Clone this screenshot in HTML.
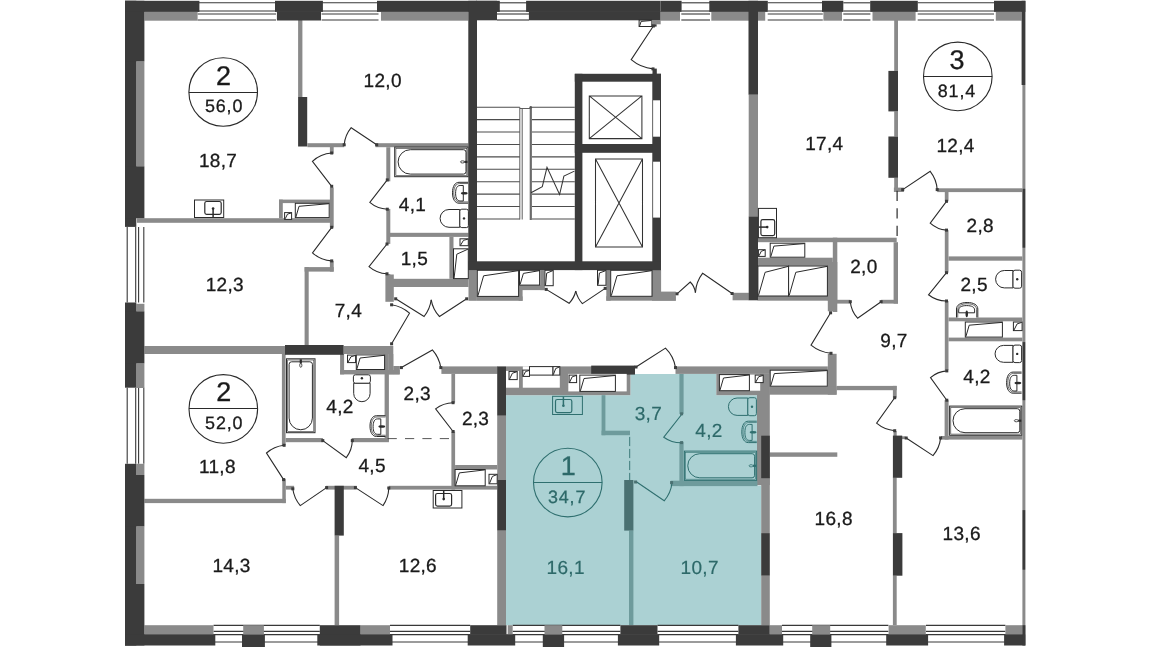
<!DOCTYPE html>
<html><head><meta charset="utf-8"><title>Floor plan</title>
<style>
html,body{margin:0;padding:0;background:#fff;}
body{width:1150px;height:647px;overflow:hidden;}
svg{display:block;will-change:transform;font-family:"Liberation Sans",sans-serif;-webkit-font-smoothing:antialiased;text-rendering:geometricPrecision;}
</style></head><body>
<svg width="1150" height="647" viewBox="0 0 1150 647">
<rect width="1150" height="647" fill="#fff"/>
<path d="M506 395.2 H630.4 V374 H716.3 V395.2 H757.2 V485.5 H761.2 V625.2 H506 Z" fill="#abd1d3"/>
<line x1="197.60" y1="2.80" x2="276.00" y2="2.80" stroke="#383838" stroke-width="1.10"/>
<line x1="197.60" y1="11.00" x2="276.00" y2="11.00" stroke="#383838" stroke-width="1.10"/>
<line x1="197.60" y1="14.00" x2="276.00" y2="14.00" stroke="#383838" stroke-width="1.10"/>
<line x1="197.60" y1="20.00" x2="276.00" y2="20.00" stroke="#383838" stroke-width="1.10"/>
<line x1="321.60" y1="2.80" x2="378.50" y2="2.80" stroke="#383838" stroke-width="1.10"/>
<line x1="321.60" y1="11.00" x2="378.50" y2="11.00" stroke="#383838" stroke-width="1.10"/>
<line x1="321.60" y1="14.00" x2="378.50" y2="14.00" stroke="#383838" stroke-width="1.10"/>
<line x1="321.60" y1="20.00" x2="378.50" y2="20.00" stroke="#383838" stroke-width="1.10"/>
<line x1="497.00" y1="2.80" x2="529.00" y2="2.80" stroke="#383838" stroke-width="1.10"/>
<line x1="497.00" y1="11.00" x2="529.00" y2="11.00" stroke="#383838" stroke-width="1.10"/>
<line x1="497.00" y1="14.00" x2="529.00" y2="14.00" stroke="#383838" stroke-width="1.10"/>
<line x1="497.00" y1="20.00" x2="529.00" y2="20.00" stroke="#383838" stroke-width="1.10"/>
<line x1="681.30" y1="2.80" x2="710.00" y2="2.80" stroke="#383838" stroke-width="1.10"/>
<line x1="681.30" y1="11.00" x2="710.00" y2="11.00" stroke="#383838" stroke-width="1.10"/>
<line x1="681.30" y1="14.00" x2="710.00" y2="14.00" stroke="#383838" stroke-width="1.10"/>
<line x1="681.30" y1="20.00" x2="710.00" y2="20.00" stroke="#383838" stroke-width="1.10"/>
<line x1="767.70" y1="2.80" x2="822.80" y2="2.80" stroke="#383838" stroke-width="1.10"/>
<line x1="767.70" y1="11.00" x2="822.80" y2="11.00" stroke="#383838" stroke-width="1.10"/>
<line x1="767.70" y1="14.00" x2="822.80" y2="14.00" stroke="#383838" stroke-width="1.10"/>
<line x1="767.70" y1="20.00" x2="822.80" y2="20.00" stroke="#383838" stroke-width="1.10"/>
<line x1="843.30" y1="2.80" x2="870.40" y2="2.80" stroke="#383838" stroke-width="1.10"/>
<line x1="843.30" y1="11.00" x2="870.40" y2="11.00" stroke="#383838" stroke-width="1.10"/>
<line x1="843.30" y1="14.00" x2="870.40" y2="14.00" stroke="#383838" stroke-width="1.10"/>
<line x1="843.30" y1="20.00" x2="870.40" y2="20.00" stroke="#383838" stroke-width="1.10"/>
<line x1="917.70" y1="2.80" x2="994.00" y2="2.80" stroke="#383838" stroke-width="1.10"/>
<line x1="917.70" y1="11.00" x2="994.00" y2="11.00" stroke="#383838" stroke-width="1.10"/>
<line x1="917.70" y1="14.00" x2="994.00" y2="14.00" stroke="#383838" stroke-width="1.10"/>
<line x1="917.70" y1="20.00" x2="994.00" y2="20.00" stroke="#383838" stroke-width="1.10"/>
<line x1="127.20" y1="226.90" x2="127.20" y2="302.50" stroke="#383838" stroke-width="1.10"/>
<line x1="135.70" y1="226.90" x2="135.70" y2="302.50" stroke="#383838" stroke-width="1.10"/>
<line x1="138.60" y1="226.90" x2="138.60" y2="302.50" stroke="#383838" stroke-width="1.10"/>
<line x1="143.80" y1="226.90" x2="143.80" y2="302.50" stroke="#383838" stroke-width="1.10"/>
<line x1="127.20" y1="387.70" x2="127.20" y2="463.80" stroke="#383838" stroke-width="1.10"/>
<line x1="135.70" y1="387.70" x2="135.70" y2="463.80" stroke="#383838" stroke-width="1.10"/>
<line x1="138.60" y1="387.70" x2="138.60" y2="463.80" stroke="#383838" stroke-width="1.10"/>
<line x1="143.80" y1="387.70" x2="143.80" y2="463.80" stroke="#383838" stroke-width="1.10"/>
<line x1="213.50" y1="625.40" x2="319.80" y2="625.40" stroke="#383838" stroke-width="1.10"/>
<line x1="213.50" y1="631.40" x2="319.80" y2="631.40" stroke="#383838" stroke-width="1.10"/>
<line x1="213.50" y1="634.60" x2="319.80" y2="634.60" stroke="#383838" stroke-width="1.10"/>
<line x1="213.50" y1="642.00" x2="319.80" y2="642.00" stroke="#383838" stroke-width="1.10"/>
<line x1="390.00" y1="625.40" x2="470.20" y2="625.40" stroke="#383838" stroke-width="1.10"/>
<line x1="390.00" y1="631.40" x2="470.20" y2="631.40" stroke="#383838" stroke-width="1.10"/>
<line x1="390.00" y1="634.60" x2="470.20" y2="634.60" stroke="#383838" stroke-width="1.10"/>
<line x1="390.00" y1="642.00" x2="470.20" y2="642.00" stroke="#383838" stroke-width="1.10"/>
<line x1="512.70" y1="625.40" x2="620.40" y2="625.40" stroke="#383838" stroke-width="1.10"/>
<line x1="512.70" y1="631.40" x2="620.40" y2="631.40" stroke="#383838" stroke-width="1.10"/>
<line x1="512.70" y1="634.60" x2="620.40" y2="634.60" stroke="#383838" stroke-width="1.10"/>
<line x1="512.70" y1="642.00" x2="620.40" y2="642.00" stroke="#383838" stroke-width="1.10"/>
<line x1="657.50" y1="625.40" x2="738.40" y2="625.40" stroke="#383838" stroke-width="1.10"/>
<line x1="657.50" y1="631.40" x2="738.40" y2="631.40" stroke="#383838" stroke-width="1.10"/>
<line x1="657.50" y1="634.60" x2="738.40" y2="634.60" stroke="#383838" stroke-width="1.10"/>
<line x1="657.50" y1="642.00" x2="738.40" y2="642.00" stroke="#383838" stroke-width="1.10"/>
<line x1="782.00" y1="625.40" x2="888.40" y2="625.40" stroke="#383838" stroke-width="1.10"/>
<line x1="782.00" y1="631.40" x2="888.40" y2="631.40" stroke="#383838" stroke-width="1.10"/>
<line x1="782.00" y1="634.60" x2="888.40" y2="634.60" stroke="#383838" stroke-width="1.10"/>
<line x1="782.00" y1="642.00" x2="888.40" y2="642.00" stroke="#383838" stroke-width="1.10"/>
<line x1="926.00" y1="625.40" x2="1005.40" y2="625.40" stroke="#383838" stroke-width="1.10"/>
<line x1="926.00" y1="631.40" x2="1005.40" y2="631.40" stroke="#383838" stroke-width="1.10"/>
<line x1="926.00" y1="634.60" x2="1005.40" y2="634.60" stroke="#383838" stroke-width="1.10"/>
<line x1="926.00" y1="642.00" x2="1005.40" y2="642.00" stroke="#383838" stroke-width="1.10"/>
<line x1="477.00" y1="107.20" x2="519.80" y2="107.20" stroke="#4d4d4d" stroke-width="1.10"/>
<line x1="532.00" y1="107.20" x2="574.80" y2="107.20" stroke="#4d4d4d" stroke-width="1.10"/>
<line x1="477.00" y1="119.62" x2="519.80" y2="119.62" stroke="#4d4d4d" stroke-width="1.10"/>
<line x1="532.00" y1="119.62" x2="574.80" y2="119.62" stroke="#4d4d4d" stroke-width="1.10"/>
<line x1="477.00" y1="132.04" x2="519.80" y2="132.04" stroke="#4d4d4d" stroke-width="1.10"/>
<line x1="532.00" y1="132.04" x2="574.80" y2="132.04" stroke="#4d4d4d" stroke-width="1.10"/>
<line x1="477.00" y1="144.46" x2="519.80" y2="144.46" stroke="#4d4d4d" stroke-width="1.10"/>
<line x1="532.00" y1="144.46" x2="574.80" y2="144.46" stroke="#4d4d4d" stroke-width="1.10"/>
<line x1="477.00" y1="156.88" x2="519.80" y2="156.88" stroke="#4d4d4d" stroke-width="1.10"/>
<line x1="532.00" y1="156.88" x2="574.80" y2="156.88" stroke="#4d4d4d" stroke-width="1.10"/>
<line x1="477.00" y1="169.30" x2="519.80" y2="169.30" stroke="#4d4d4d" stroke-width="1.10"/>
<line x1="532.00" y1="169.30" x2="574.80" y2="169.30" stroke="#4d4d4d" stroke-width="1.10"/>
<line x1="477.00" y1="181.72" x2="519.80" y2="181.72" stroke="#4d4d4d" stroke-width="1.10"/>
<line x1="532.00" y1="181.72" x2="574.80" y2="181.72" stroke="#4d4d4d" stroke-width="1.10"/>
<line x1="477.00" y1="194.14" x2="519.80" y2="194.14" stroke="#4d4d4d" stroke-width="1.10"/>
<line x1="532.00" y1="194.14" x2="574.80" y2="194.14" stroke="#4d4d4d" stroke-width="1.10"/>
<line x1="477.00" y1="206.56" x2="519.80" y2="206.56" stroke="#4d4d4d" stroke-width="1.10"/>
<line x1="532.00" y1="206.56" x2="574.80" y2="206.56" stroke="#4d4d4d" stroke-width="1.10"/>
<line x1="477.00" y1="218.98" x2="519.80" y2="218.98" stroke="#4d4d4d" stroke-width="1.10"/>
<line x1="532.00" y1="218.98" x2="574.80" y2="218.98" stroke="#4d4d4d" stroke-width="1.10"/>
<line x1="519.80" y1="107.20" x2="519.80" y2="219.50" stroke="#4d4d4d" stroke-width="0.90"/>
<line x1="522.20" y1="108.50" x2="522.20" y2="219.50" stroke="#4d4d4d" stroke-width="0.90"/>
<line x1="519.80" y1="108.50" x2="530.00" y2="108.50" stroke="#4d4d4d" stroke-width="0.90"/>
<line x1="530.80" y1="107.20" x2="530.80" y2="220.00" stroke="#6a6a6a" stroke-width="2.20"/>
<circle cx="530.8" cy="107.2" r="1.3" fill="#555"/>
<path d="M531 192.7 L542.3 186.7 L547 167.3 L559.6 194.5 L563.9 176.1 L574.4 171.1" fill="none" stroke="#333" stroke-width="1.05" />
<path d="M589.3 95.9 H641.9 V138.6 H589.3 Z M589.3 95.9 L641.9 138.6 M641.9 95.9 L589.3 138.6" fill="none" stroke="#333" stroke-width="1.05" />
<path d="M595.5 158.9 H642.5 V247.0 H595.5 Z M595.5 158.9 L642.5 247.0 M642.5 158.9 L595.5 247.0" fill="none" stroke="#333" stroke-width="1.05" />
<rect x="136.30" y="61.40" width="8.10" height="104.90" fill="#8a8a8a"/>
<rect x="136.30" y="303.80" width="8.10" height="7.50" fill="#8a8a8a"/>
<rect x="136.30" y="363.40" width="8.10" height="24.60" fill="#8a8a8a"/>
<rect x="136.30" y="463.80" width="8.10" height="11.20" fill="#8a8a8a"/>
<rect x="136.30" y="526.40" width="8.10" height="57.60" fill="#8a8a8a"/>
<rect x="144.40" y="11.90" width="53.20" height="8.80" fill="#8a8a8a"/>
<rect x="381.00" y="11.90" width="87.30" height="8.80" fill="#8a8a8a"/>
<rect x="660.50" y="11.90" width="19.50" height="8.80" fill="#8a8a8a"/>
<rect x="711.30" y="11.90" width="53.90" height="8.80" fill="#8a8a8a"/>
<rect x="823.40" y="11.90" width="18.60" height="8.80" fill="#8a8a8a"/>
<rect x="872.50" y="11.90" width="43.10" height="8.80" fill="#8a8a8a"/>
<rect x="995.80" y="11.90" width="25.80" height="8.80" fill="#8a8a8a"/>
<rect x="1022.40" y="85.00" width="3.00" height="549.00" fill="#8a8a8a"/>
<rect x="144.40" y="625.20" width="69.10" height="9.00" fill="#8a8a8a"/>
<rect x="243.20" y="625.20" width="20.70" height="9.60" fill="#8a8a8a"/>
<rect x="360.50" y="625.20" width="29.50" height="9.00" fill="#8a8a8a"/>
<rect x="507.70" y="625.20" width="5.00" height="9.00" fill="#8a8a8a"/>
<rect x="544.50" y="625.20" width="17.80" height="9.60" fill="#8a8a8a"/>
<rect x="769.70" y="625.20" width="12.30" height="9.00" fill="#8a8a8a"/>
<rect x="812.20" y="625.20" width="18.00" height="9.60" fill="#8a8a8a"/>
<rect x="888.60" y="625.20" width="37.20" height="9.00" fill="#8a8a8a"/>
<rect x="1005.40" y="625.20" width="17.00" height="9.00" fill="#8a8a8a"/>
<rect x="298.10" y="20.00" width="4.30" height="77.00" fill="#8a8a8a"/>
<rect x="307.40" y="143.20" width="36.80" height="4.00" fill="#8a8a8a"/>
<rect x="375.50" y="143.20" width="92.80" height="4.00" fill="#8a8a8a"/>
<rect x="329.90" y="146.50" width="3.80" height="7.30" fill="#8a8a8a"/>
<rect x="329.90" y="187.60" width="3.80" height="40.00" fill="#8a8a8a"/>
<rect x="329.90" y="260.90" width="3.80" height="10.70" fill="#8a8a8a"/>
<rect x="136.90" y="218.20" width="196.10" height="4.60" fill="#8a8a8a"/>
<rect x="304.60" y="267.10" width="29.10" height="4.50" fill="#8a8a8a"/>
<rect x="304.60" y="267.10" width="4.10" height="78.90" fill="#8a8a8a"/>
<rect x="279.00" y="199.60" width="3.80" height="18.60" fill="#8a8a8a"/>
<rect x="279.00" y="199.60" width="51.00" height="3.50" fill="#8a8a8a"/>
<rect x="386.30" y="147.20" width="4.00" height="34.10" fill="#8a8a8a"/>
<rect x="386.30" y="208.90" width="4.00" height="35.00" fill="#8a8a8a"/>
<rect x="386.30" y="274.00" width="4.00" height="13.00" fill="#8a8a8a"/>
<rect x="385.40" y="274.50" width="8.40" height="27.30" fill="#8a8a8a"/>
<rect x="390.00" y="232.80" width="78.50" height="4.10" fill="#8a8a8a"/>
<rect x="386.30" y="278.80" width="82.20" height="8.20" fill="#8a8a8a"/>
<rect x="449.40" y="236.90" width="4.10" height="41.90" fill="#8a8a8a"/>
<rect x="468.50" y="270.10" width="8.40" height="30.70" fill="#8a8a8a"/>
<rect x="476.90" y="296.40" width="45.70" height="4.40" fill="#8a8a8a"/>
<rect x="518.60" y="285.10" width="4.00" height="15.70" fill="#8a8a8a"/>
<rect x="518.60" y="285.10" width="26.00" height="5.00" fill="#8a8a8a"/>
<rect x="540.20" y="270.10" width="4.40" height="20.00" fill="#8a8a8a"/>
<rect x="606.30" y="270.00" width="4.40" height="30.70" fill="#8a8a8a"/>
<rect x="606.30" y="296.30" width="69.50" height="4.40" fill="#8a8a8a"/>
<rect x="652.00" y="270.00" width="9.10" height="26.30" fill="#8a8a8a"/>
<rect x="652.00" y="291.60" width="23.80" height="9.10" fill="#8a8a8a"/>
<rect x="732.60" y="292.80" width="16.30" height="7.50" fill="#8a8a8a"/>
<rect x="748.70" y="94.70" width="9.30" height="121.70" fill="#8a8a8a"/>
<rect x="894.20" y="20.00" width="3.80" height="50.90" fill="#8a8a8a"/>
<rect x="894.20" y="111.40" width="3.80" height="25.10" fill="#8a8a8a"/>
<rect x="894.20" y="177.80" width="3.80" height="13.50" fill="#8a8a8a"/>
<rect x="893.90" y="187.60" width="10.00" height="4.40" fill="#8a8a8a"/>
<rect x="937.20" y="188.30" width="85.20" height="3.80" fill="#8a8a8a"/>
<rect x="944.80" y="192.00" width="3.70" height="9.30" fill="#8a8a8a"/>
<rect x="944.80" y="230.10" width="3.70" height="42.60" fill="#8a8a8a"/>
<rect x="944.80" y="301.00" width="3.70" height="69.10" fill="#8a8a8a"/>
<rect x="944.60" y="400.20" width="4.00" height="39.40" fill="#8a8a8a"/>
<rect x="948.50" y="256.40" width="73.90" height="4.30" fill="#8a8a8a"/>
<rect x="948.50" y="317.50" width="73.90" height="3.80" fill="#8a8a8a"/>
<rect x="948.50" y="337.60" width="73.90" height="3.70" fill="#8a8a8a"/>
<rect x="941.00" y="436.00" width="81.40" height="3.60" fill="#8a8a8a"/>
<rect x="893.50" y="431.00" width="3.20" height="5.00" fill="#8a8a8a"/>
<rect x="902.00" y="436.30" width="3.40" height="2.80" fill="#8a8a8a"/>
<rect x="757.70" y="237.70" width="139.00" height="4.50" fill="#8a8a8a"/>
<rect x="832.80" y="237.70" width="4.50" height="74.30" fill="#8a8a8a"/>
<rect x="757.70" y="257.70" width="75.10" height="8.00" fill="#8a8a8a"/>
<rect x="757.70" y="296.00" width="75.10" height="4.70" fill="#8a8a8a"/>
<rect x="827.30" y="262.00" width="10.00" height="38.30" fill="#8a8a8a"/>
<rect x="893.60" y="242.20" width="4.40" height="61.40" fill="#8a8a8a"/>
<rect x="836.60" y="299.80" width="13.70" height="3.80" fill="#8a8a8a"/>
<rect x="881.10" y="299.80" width="16.90" height="3.80" fill="#8a8a8a"/>
<rect x="827.80" y="300.00" width="8.80" height="11.30" fill="#8a8a8a"/>
<rect x="675.50" y="366.40" width="152.30" height="7.50" fill="#8a8a8a"/>
<rect x="827.80" y="353.80" width="8.80" height="40.90" fill="#8a8a8a"/>
<rect x="716.30" y="373.90" width="53.10" height="21.30" fill="#8a8a8a"/>
<rect x="757.00" y="373.90" width="12.80" height="111.20" fill="#8a8a8a"/>
<rect x="769.40" y="386.40" width="67.20" height="8.30" fill="#8a8a8a"/>
<rect x="836.60" y="385.90" width="60.10" height="4.30" fill="#8a8a8a"/>
<rect x="892.90" y="385.90" width="3.80" height="11.80" fill="#8a8a8a"/>
<rect x="769.70" y="452.40" width="67.60" height="4.40" fill="#8a8a8a"/>
<rect x="761.20" y="477.50" width="8.60" height="55.60" fill="#8a8a8a"/>
<rect x="761.20" y="575.70" width="8.60" height="49.50" fill="#8a8a8a"/>
<rect x="892.90" y="477.50" width="3.80" height="55.60" fill="#8a8a8a"/>
<rect x="892.90" y="575.70" width="3.80" height="49.50" fill="#8a8a8a"/>
<rect x="144.40" y="346.00" width="140.90" height="8.00" fill="#8a8a8a"/>
<rect x="343.60" y="346.00" width="49.70" height="8.00" fill="#8a8a8a"/>
<rect x="388.90" y="354.00" width="4.60" height="20.40" fill="#8a8a8a"/>
<rect x="393.30" y="366.00" width="6.50" height="8.40" fill="#8a8a8a"/>
<rect x="340.10" y="354.00" width="4.00" height="20.40" fill="#8a8a8a"/>
<rect x="340.10" y="370.00" width="59.50" height="4.40" fill="#8a8a8a"/>
<rect x="384.60" y="354.00" width="4.30" height="87.50" fill="#8a8a8a"/>
<rect x="281.90" y="354.00" width="3.70" height="91.30" fill="#8a8a8a"/>
<rect x="285.60" y="438.00" width="37.30" height="4.20" fill="#8a8a8a"/>
<rect x="351.70" y="438.00" width="37.20" height="4.20" fill="#8a8a8a"/>
<rect x="441.40" y="366.40" width="56.30" height="7.50" fill="#8a8a8a"/>
<rect x="451.40" y="373.90" width="3.70" height="28.80" fill="#8a8a8a"/>
<rect x="451.40" y="431.50" width="3.70" height="58.10" fill="#8a8a8a"/>
<rect x="497.20" y="415.70" width="8.80" height="64.30" fill="#8a8a8a"/>
<rect x="497.20" y="530.60" width="8.80" height="94.60" fill="#8a8a8a"/>
<rect x="144.40" y="498.80" width="141.40" height="4.30" fill="#8a8a8a"/>
<rect x="282.30" y="478.80" width="3.50" height="24.30" fill="#8a8a8a"/>
<rect x="285.80" y="485.80" width="8.30" height="3.80" fill="#8a8a8a"/>
<rect x="326.00" y="485.80" width="30.70" height="3.80" fill="#8a8a8a"/>
<rect x="334.60" y="535.60" width="4.50" height="89.60" fill="#8a8a8a"/>
<rect x="388.80" y="485.80" width="108.40" height="3.80" fill="#8a8a8a"/>
<rect x="455.10" y="465.00" width="42.10" height="4.50" fill="#8a8a8a"/>
<rect x="506.00" y="366.40" width="124.40" height="28.80" fill="#8a8a8a"/>
<rect x="601.60" y="395.20" width="3.80" height="40.00" fill="#6e9b9c"/>
<rect x="601.60" y="430.70" width="28.40" height="4.50" fill="#6e9b9c"/>
<rect x="679.40" y="374.00" width="4.20" height="40.00" fill="#6e9b9c"/>
<rect x="679.40" y="441.90" width="4.20" height="44.20" fill="#6e9b9c"/>
<rect x="670.70" y="480.70" width="86.70" height="5.40" fill="#6e9b9c"/>
<rect x="629.00" y="530.60" width="4.40" height="94.60" fill="#6e9b9c"/>
<rect x="624.20" y="480.00" width="9.20" height="50.60" fill="#4a7172"/>
<rect x="125.00" y="0.80" width="11.30" height="226.10" fill="#3b3b3b"/>
<rect x="125.00" y="302.50" width="11.30" height="85.20" fill="#3b3b3b"/>
<rect x="125.00" y="463.80" width="11.30" height="181.70" fill="#3b3b3b"/>
<rect x="125.00" y="0.80" width="19.40" height="60.60" fill="#3b3b3b"/>
<rect x="125.00" y="166.30" width="19.40" height="51.90" fill="#3b3b3b"/>
<rect x="125.00" y="311.30" width="19.40" height="52.10" fill="#3b3b3b"/>
<rect x="125.00" y="475.00" width="19.40" height="51.40" fill="#3b3b3b"/>
<rect x="125.00" y="584.00" width="19.40" height="61.50" fill="#3b3b3b"/>
<rect x="125.00" y="0.80" width="74.40" height="11.10" fill="#3b3b3b"/>
<rect x="275.00" y="0.80" width="47.90" height="11.10" fill="#3b3b3b"/>
<rect x="276.90" y="11.20" width="44.10" height="9.30" fill="#3b3b3b"/>
<rect x="377.00" y="0.80" width="122.80" height="11.10" fill="#3b3b3b"/>
<rect x="476.00" y="0.80" width="21.00" height="19.50" fill="#3b3b3b"/>
<rect x="468.30" y="0.80" width="8.70" height="269.30" fill="#3b3b3b"/>
<rect x="526.10" y="0.80" width="134.40" height="11.10" fill="#3b3b3b"/>
<rect x="528.90" y="11.20" width="131.60" height="9.10" fill="#3b3b3b"/>
<rect x="660.50" y="0.80" width="21.10" height="11.10" fill="#3b3b3b"/>
<rect x="709.30" y="0.80" width="58.50" height="11.10" fill="#3b3b3b"/>
<rect x="748.50" y="0.80" width="9.50" height="93.90" fill="#3b3b3b"/>
<rect x="748.70" y="216.40" width="9.30" height="83.90" fill="#3b3b3b"/>
<rect x="822.00" y="0.80" width="21.30" height="11.10" fill="#3b3b3b"/>
<rect x="870.20" y="0.80" width="47.60" height="11.10" fill="#3b3b3b"/>
<rect x="994.00" y="0.80" width="31.40" height="11.10" fill="#3b3b3b"/>
<rect x="1021.60" y="0.80" width="3.80" height="84.20" fill="#3b3b3b"/>
<rect x="1022.60" y="188.80" width="2.60" height="58.90" fill="#3b3b3b"/>
<rect x="1022.60" y="342.10" width="2.60" height="58.10" fill="#3b3b3b"/>
<rect x="1022.60" y="510.10" width="2.60" height="59.60" fill="#3b3b3b"/>
<rect x="125.00" y="634.20" width="90.30" height="11.30" fill="#3b3b3b"/>
<rect x="242.00" y="634.80" width="22.90" height="12.20" fill="#3b3b3b"/>
<rect x="319.80" y="625.20" width="40.70" height="20.30" fill="#3b3b3b"/>
<rect x="317.30" y="634.20" width="75.20" height="11.30" fill="#3b3b3b"/>
<rect x="470.20" y="625.20" width="36.30" height="9.60" fill="#3b3b3b"/>
<rect x="467.70" y="634.20" width="47.50" height="11.30" fill="#3b3b3b"/>
<rect x="542.80" y="634.80" width="21.30" height="12.20" fill="#3b3b3b"/>
<rect x="620.40" y="625.20" width="37.10" height="9.60" fill="#3b3b3b"/>
<rect x="617.90" y="634.20" width="41.30" height="11.30" fill="#3b3b3b"/>
<rect x="738.40" y="625.20" width="31.30" height="9.60" fill="#3b3b3b"/>
<rect x="735.90" y="634.20" width="47.30" height="11.30" fill="#3b3b3b"/>
<rect x="810.20" y="634.80" width="21.20" height="12.20" fill="#3b3b3b"/>
<rect x="886.20" y="634.20" width="41.90" height="11.30" fill="#3b3b3b"/>
<rect x="1004.10" y="634.20" width="21.30" height="11.30" fill="#3b3b3b"/>
<rect x="1022.40" y="625.20" width="3.00" height="20.30" fill="#3b3b3b"/>
<rect x="298.10" y="97.00" width="9.10" height="49.50" fill="#3b3b3b"/>
<rect x="888.40" y="70.90" width="9.60" height="40.50" fill="#3b3b3b"/>
<rect x="888.40" y="136.50" width="9.60" height="41.30" fill="#3b3b3b"/>
<rect x="285.00" y="345.00" width="58.60" height="9.80" fill="#3b3b3b"/>
<rect x="497.20" y="366.40" width="8.80" height="49.30" fill="#3b3b3b"/>
<rect x="497.20" y="480.00" width="8.80" height="50.60" fill="#3b3b3b"/>
<rect x="591.20" y="365.60" width="43.80" height="9.00" fill="#3b3b3b"/>
<rect x="334.60" y="485.80" width="9.20" height="49.80" fill="#3b3b3b"/>
<rect x="761.20" y="435.70" width="8.60" height="42.50" fill="#3b3b3b"/>
<rect x="761.20" y="533.10" width="8.60" height="42.60" fill="#3b3b3b"/>
<rect x="892.90" y="435.60" width="9.30" height="42.20" fill="#3b3b3b"/>
<rect x="892.90" y="533.10" width="9.50" height="42.60" fill="#3b3b3b"/>
<rect x="574.80" y="73.80" width="86.20" height="7.90" fill="#3b3b3b"/>
<rect x="574.80" y="73.80" width="7.60" height="196.30" fill="#3b3b3b"/>
<rect x="574.80" y="144.00" width="86.20" height="8.80" fill="#3b3b3b"/>
<rect x="652.30" y="73.80" width="8.70" height="196.30" fill="#3b3b3b"/>
<rect x="468.30" y="261.30" width="192.70" height="8.80" fill="#3b3b3b"/>
<rect x="653.10" y="100.30" width="6.90" height="36.40" fill="#fff"/>
<rect x="653.10" y="161.70" width="6.90" height="55.90" fill="#fff"/>
<rect x="506.00" y="370.90" width="13.00" height="16.80" fill="#fff"/>
<rect x="522.80" y="366.40" width="37.00" height="21.30" fill="#fff"/>
<rect x="568.30" y="373.90" width="58.40" height="17.50" fill="#fff"/>
<rect x="719.40" y="374.60" width="40.80" height="16.10" fill="#fff"/>
<rect x="770.20" y="370.20" width="57.10" height="16.00" fill="#fff"/>
<rect x="284.60" y="212.60" width="7.00" height="6.80" fill="#fff" stroke="#2a2a2a" stroke-width="1.00"/>
<path d="M285.2 218.8 L287.5 214.1 L291.2 213.0" fill="none" stroke="#2a2a2a" stroke-width="1.00" />
<rect x="295.30" y="203.30" width="33.90" height="14.30" fill="#fff" stroke="#2a2a2a" stroke-width="1.00"/>
<path d="M295.9 217.0 L299.0 206.3 L328.8 203.7" fill="none" stroke="#2a2a2a" stroke-width="1.00" />
<rect x="460.00" y="238.80" width="8.30" height="6.90" fill="#fff" stroke="#2a2a2a" stroke-width="1.00"/>
<path d="M460.6 245.1 L463.5 240.3 L467.9 239.2" fill="none" stroke="#2a2a2a" stroke-width="1.00" />
<rect x="453.50" y="248.80" width="14.80" height="29.80" fill="#fff" stroke="#2a2a2a" stroke-width="1.00"/>
<path d="M454.1 278.0 L456.8 254.2 L467.9 249.2" fill="none" stroke="#2a2a2a" stroke-width="1.00" />
<rect x="477.30" y="270.30" width="41.30" height="26.10" fill="#fff" stroke="#2a2a2a" stroke-width="1.00"/>
<path d="M477.9 295.8 L483.6 275.8 L518.2 270.7" fill="none" stroke="#2a2a2a" stroke-width="1.00" />
<rect x="519.50" y="270.30" width="20.10" height="14.80" fill="#fff" stroke="#2a2a2a" stroke-width="1.00"/>
<path d="M520.1 284.5 L523.4 273.4 L539.2 270.7" fill="none" stroke="#2a2a2a" stroke-width="1.00" />
<rect x="544.90" y="270.30" width="8.30" height="15.40" fill="#fff" stroke="#2a2a2a" stroke-width="1.00"/>
<path d="M545.5 285.1 L546.7 273.1 L552.8 270.7" fill="none" stroke="#2a2a2a" stroke-width="1.00" />
<rect x="597.50" y="270.30" width="8.50" height="15.00" fill="#fff" stroke="#2a2a2a" stroke-width="1.00"/>
<path d="M598.1 284.7 L599.4 273.0 L605.6 270.7" fill="none" stroke="#2a2a2a" stroke-width="1.00" />
<rect x="610.70" y="270.30" width="41.30" height="26.00" fill="#fff" stroke="#2a2a2a" stroke-width="1.00"/>
<path d="M611.3 295.7 L617.0 275.8 L651.6 270.7" fill="none" stroke="#2a2a2a" stroke-width="1.00" />
<rect x="758.40" y="249.70" width="6.80" height="6.70" fill="#fff" stroke="#2a2a2a" stroke-width="1.00"/>
<path d="M759.0 255.8 L761.3 251.2 L764.8 250.1" fill="none" stroke="#2a2a2a" stroke-width="1.00" />
<rect x="770.20" y="243.20" width="34.60" height="14.00" fill="#fff" stroke="#2a2a2a" stroke-width="1.00"/>
<path d="M770.8 256.6 L773.9 246.1 L804.4 243.6" fill="none" stroke="#2a2a2a" stroke-width="1.00" />
<rect x="757.90" y="266.00" width="30.70" height="30.00" fill="#fff" stroke="#2a2a2a" stroke-width="1.00"/>
<path d="M758.5 295.4 L765.1 272.3 L788.2 266.4" fill="none" stroke="#2a2a2a" stroke-width="1.00" />
<rect x="788.60" y="266.00" width="38.80" height="30.00" fill="#fff" stroke="#2a2a2a" stroke-width="1.00"/>
<path d="M789.2 295.4 L795.8 272.3 L827.0 266.4" fill="none" stroke="#2a2a2a" stroke-width="1.00" />
<rect x="347.50" y="355.10" width="8.10" height="7.50" fill="#fff" stroke="#2a2a2a" stroke-width="1.00"/>
<path d="M348.1 362.0 L350.9 356.8 L355.2 355.5" fill="none" stroke="#2a2a2a" stroke-width="1.00" />
<rect x="356.30" y="354.90" width="28.30" height="14.60" fill="#fff" stroke="#2a2a2a" stroke-width="1.00"/>
<path d="M356.9 368.9 L360.1 358.0 L384.2 355.3" fill="none" stroke="#2a2a2a" stroke-width="1.00" />
<rect x="509.00" y="371.40" width="8.20" height="8.20" fill="#fff" stroke="#2a2a2a" stroke-width="1.00"/>
<path d="M509.6 379.0 L512.4 373.2 L516.8 371.8" fill="none" stroke="#2a2a2a" stroke-width="1.00" />
<rect x="522.80" y="370.10" width="6.70" height="6.30" fill="#fff" stroke="#2a2a2a" stroke-width="1.00"/>
<path d="M523.4 375.8 L525.6 371.5 L529.1 370.5" fill="none" stroke="#2a2a2a" stroke-width="1.00" />
<rect x="552.80" y="366.60" width="7.00" height="8.50" fill="#fff" stroke="#2a2a2a" stroke-width="1.00"/>
<path d="M553.4 374.5 L555.7 368.5 L559.4 367.0" fill="none" stroke="#2a2a2a" stroke-width="1.00" />
<rect x="569.10" y="375.10" width="7.50" height="7.50" fill="#fff" stroke="#2a2a2a" stroke-width="1.00"/>
<path d="M569.7 382.0 L572.2 376.8 L576.2 375.5" fill="none" stroke="#2a2a2a" stroke-width="1.00" />
<rect x="579.80" y="375.10" width="35.60" height="16.30" fill="#fff" stroke="#2a2a2a" stroke-width="1.00"/>
<path d="M580.4 390.8 L584.0 378.5 L615.0 375.5" fill="none" stroke="#2a2a2a" stroke-width="1.00" />
<rect x="719.40" y="374.60" width="30.00" height="16.10" fill="#fff" stroke="#2a2a2a" stroke-width="1.00"/>
<path d="M720.0 390.1 L723.5 378.0 L749.0 375.0" fill="none" stroke="#2a2a2a" stroke-width="1.00" />
<rect x="755.20" y="375.10" width="8.00" height="7.50" fill="#fff" stroke="#2a2a2a" stroke-width="1.00"/>
<path d="M755.8 382.0 L758.6 376.8 L762.8 375.5" fill="none" stroke="#2a2a2a" stroke-width="1.00" />
<rect x="770.20" y="370.20" width="57.10" height="16.00" fill="#fff" stroke="#2a2a2a" stroke-width="1.00"/>
<path d="M770.8 385.6 L774.3 373.6 L826.9 370.6" fill="none" stroke="#2a2a2a" stroke-width="1.00" />
<rect x="965.30" y="322.00" width="37.10" height="15.10" fill="#fff" stroke="#2a2a2a" stroke-width="1.00"/>
<path d="M965.9 336.5 L969.2 325.2 L1002.0 322.4" fill="none" stroke="#2a2a2a" stroke-width="1.00" />
<rect x="1013.40" y="322.00" width="8.70" height="8.60" fill="#fff" stroke="#2a2a2a" stroke-width="1.00"/>
<path d="M1014.0 330.0 L1017.1 323.9 L1021.7 322.4" fill="none" stroke="#2a2a2a" stroke-width="1.00" />
<rect x="455.10" y="469.50" width="30.10" height="16.30" fill="#fff" stroke="#2a2a2a" stroke-width="1.00"/>
<path d="M455.7 485.2 L459.3 472.9 L484.8 469.9" fill="none" stroke="#2a2a2a" stroke-width="1.00" />
<rect x="489.00" y="474.30" width="8.20" height="9.50" fill="#fff" stroke="#2a2a2a" stroke-width="1.00"/>
<path d="M489.6 483.2 L492.4 476.4 L496.8 474.7" fill="none" stroke="#2a2a2a" stroke-width="1.00" />
<rect x="529.5" y="366.6" width="23.3" height="8.5" fill="#fff" stroke="#2a2a2a" stroke-width="1.0"/>
<rect x="194.50" y="200.00" width="29.20" height="17.50" fill="#fff" stroke="#2a2a2a" stroke-width="1.0"/>
<rect x="204.80" y="201.50" width="16.40" height="12.90" rx="1.80" fill="#fff" stroke="#2a2a2a" stroke-width="1.20"/>
<line x1="213.1" y1="208.5" x2="213.1" y2="216.9" stroke="#2a2a2a" stroke-width="1.5"/>
<circle cx="213.1" cy="208.5" r="1.3" fill="#2a2a2a"/>
<rect x="758.40" y="208.40" width="18.10" height="29.30" fill="#fff" stroke="#2a2a2a" stroke-width="1.0"/>
<rect x="760.90" y="219.60" width="13.80" height="16.00" rx="1.80" fill="#fff" stroke="#2a2a2a" stroke-width="1.20"/>
<line x1="767.2" y1="227.1" x2="759.0" y2="227.1" stroke="#2a2a2a" stroke-width="1.5"/>
<circle cx="767.2" cy="227.1" r="1.3" fill="#2a2a2a"/>
<rect x="433.20" y="490.50" width="28.70" height="17.50" fill="#fff" stroke="#2a2a2a" stroke-width="1.0"/>
<rect x="435.60" y="493.50" width="16.00" height="12.60" rx="1.80" fill="#fff" stroke="#2a2a2a" stroke-width="1.20"/>
<line x1="443.7" y1="499.1" x2="443.7" y2="490.9" stroke="#2a2a2a" stroke-width="1.5"/>
<circle cx="443.7" cy="499.1" r="1.3" fill="#2a2a2a"/>
<rect x="552.60" y="396.30" width="29.80" height="18.20" fill="#abd1d3" stroke="#2f6f6f" stroke-width="1.0"/>
<rect x="555.50" y="399.50" width="16.30" height="13.10" rx="1.80" fill="#abd1d3" stroke="#2f6f6f" stroke-width="1.20"/>
<line x1="563.4" y1="405.7" x2="563.4" y2="396.8" stroke="#2f6f6f" stroke-width="1.5"/>
<circle cx="563.4" cy="405.7" r="1.3" fill="#2f6f6f"/>
<rect x="394.70" y="147.10" width="73.30" height="29.60" fill="#fff" stroke="#2a2a2a" stroke-width="1.0"/>
<rect x="395.90" y="148.30" width="70.90" height="27.20" fill="none" stroke="#2a2a2a" stroke-width="0.6"/>
<path d="M410.3 149.7 H463.5 Q466.0 149.7 466.0 152.2 V171.6 Q466.0 174.1 463.5 174.1 H410.3 A12.2 12.2 0 0 1 410.3 149.7 Z" fill="none" stroke="#2a2a2a" stroke-width="1.00" />
<ellipse cx="462.5" cy="161.9" rx="2" ry="1.1" fill="none" stroke="#2a2a2a" stroke-width="0.8"/>
<line x1="464.4" y1="161.9" x2="467.5" y2="161.9" stroke="#2a2a2a" stroke-width="2.2"/>
<rect x="286.50" y="358.80" width="28.50" height="73.90" fill="#fff" stroke="#2a2a2a" stroke-width="1.0"/>
<rect x="287.70" y="360.00" width="26.10" height="71.50" fill="none" stroke="#2a2a2a" stroke-width="0.6"/>
<path d="M289.1 418.1 V364.3 Q289.1 361.8 291.6 361.8 H309.9 Q312.4 361.8 312.4 364.3 V418.1 A11.6 11.6 0 0 1 289.1 418.1 Z" fill="none" stroke="#2a2a2a" stroke-width="1.00" />
<ellipse cx="300.8" cy="365.3" rx="1.1" ry="2" fill="none" stroke="#2a2a2a" stroke-width="0.8"/>
<line x1="300.8" y1="363.4" x2="300.8" y2="359.3" stroke="#2a2a2a" stroke-width="2.2"/>
<rect x="684.40" y="451.10" width="72.20" height="29.30" fill="#abd1d3" stroke="#2f6f6f" stroke-width="1.0"/>
<rect x="685.60" y="452.30" width="69.80" height="26.90" fill="none" stroke="#2f6f6f" stroke-width="0.6"/>
<path d="M699.8 453.7 H752.1 Q754.6 453.7 754.6 456.2 V475.3 Q754.6 477.8 752.1 477.8 H699.8 A12.0 12.0 0 0 1 699.8 453.7 Z" fill="none" stroke="#2f6f6f" stroke-width="1.00" />
<ellipse cx="751.1" cy="465.8" rx="2" ry="1.1" fill="none" stroke="#2f6f6f" stroke-width="0.8"/>
<line x1="753.0" y1="465.8" x2="756.1" y2="465.8" stroke="#2f6f6f" stroke-width="2.2"/>
<rect x="949.60" y="406.10" width="72.20" height="29.20" fill="#fff" stroke="#2a2a2a" stroke-width="1.0"/>
<rect x="950.80" y="407.30" width="69.80" height="26.80" fill="none" stroke="#2a2a2a" stroke-width="0.6"/>
<path d="M965.0 408.7 H1017.3 Q1019.8 408.7 1019.8 411.2 V430.2 Q1019.8 432.7 1017.3 432.7 H965.0 A12.0 12.0 0 0 1 965.0 408.7 Z" fill="none" stroke="#2a2a2a" stroke-width="1.00" />
<ellipse cx="1016.3" cy="420.7" rx="2" ry="1.1" fill="none" stroke="#2a2a2a" stroke-width="0.8"/>
<line x1="1018.2" y1="420.7" x2="1021.3" y2="420.7" stroke="#2a2a2a" stroke-width="2.2"/>
<path d="M459.8 209.5 H449.0 A8.9 8.9 0 0 0 449.0 227.3 H459.8 Z" fill="#fff" stroke="#2a2a2a" stroke-width="1.00" />
<rect x="459.80" y="209.20" width="8.60" height="18.40" rx="2.00" fill="#fff" stroke="#2a2a2a" stroke-width="1.00"/>
<circle cx="464.0" cy="218.4" r="1.2" fill="#2a2a2a"/>
<path d="M353.7 383.2 V393.5 A8.2 8.2 0 0 0 370.1 393.5 V383.2 Z" fill="#fff" stroke="#2a2a2a" stroke-width="1.00" />
<rect x="353.40" y="374.80" width="17.00" height="8.40" rx="2.00" fill="#fff" stroke="#2a2a2a" stroke-width="1.00"/>
<circle cx="361.9" cy="378.2" r="1.2" fill="#2a2a2a"/>
<path d="M747.8 398.0 H737.1 A8.7 8.7 0 0 0 737.1 415.4 H747.8 Z" fill="#abd1d3" stroke="#2f6f6f" stroke-width="1.00" />
<rect x="747.80" y="397.70" width="8.60" height="18.00" rx="2.00" fill="#abd1d3" stroke="#2f6f6f" stroke-width="1.00"/>
<circle cx="752.0" cy="406.7" r="1.2" fill="#2f6f6f"/>
<path d="M1013.0 270.5 H1004.3 A8.7 8.7 0 0 0 1004.3 287.9 H1013.0 Z" fill="#fff" stroke="#2a2a2a" stroke-width="1.00" />
<rect x="1013.00" y="270.20" width="8.60" height="18.00" rx="2.00" fill="#fff" stroke="#2a2a2a" stroke-width="1.00"/>
<circle cx="1017.2" cy="279.2" r="1.2" fill="#2a2a2a"/>
<path d="M1013.0 345.4 H1003.5 A8.4 8.4 0 0 0 1003.5 362.3 H1013.0 Z" fill="#fff" stroke="#2a2a2a" stroke-width="1.00" />
<rect x="1013.00" y="345.10" width="8.60" height="17.50" rx="2.00" fill="#fff" stroke="#2a2a2a" stroke-width="1.00"/>
<circle cx="1017.2" cy="353.9" r="1.2" fill="#2a2a2a"/>
<g transform="translate(452.50 182.30)"><path d="M15.50 0.00 H6.50 C2.60 0.00 0.00 3.90 0.00 10.45 C0.00 17.00 2.60 20.90 6.50 20.90 H15.50" fill="#fff" stroke="#2a2a2a" stroke-width="1.00"/><path d="M15.50 1.25 H7.00 C3.55 1.25 1.25 4.70 1.25 10.45 C1.25 16.20 3.55 19.65 7.00 19.65 H15.50" fill="#fff" stroke="#2a2a2a" stroke-width="0.70"/><path d="M10.80 3.20 H7.60 C4.70 3.20 3.10 5.80 3.10 10.95 C3.10 16.10 4.70 18.70 7.60 18.70 H10.80 Z" fill="#fff" stroke="#2a2a2a" stroke-width="1.0"/><ellipse cx="11.80" cy="10.85" rx="3.4" ry="1.25" fill="#2a2a2a"/></g>
<g transform="translate(370.00 415.70)"><path d="M15.50 0.00 H6.50 C2.60 0.00 0.00 3.90 0.00 10.40 C0.00 16.90 2.60 20.80 6.50 20.80 H15.50" fill="#fff" stroke="#2a2a2a" stroke-width="1.00"/><path d="M15.50 1.25 H7.00 C3.55 1.25 1.25 4.70 1.25 10.40 C1.25 16.10 3.55 19.55 7.00 19.55 H15.50" fill="#fff" stroke="#2a2a2a" stroke-width="0.70"/><path d="M10.80 3.20 H7.60 C4.70 3.20 3.10 5.80 3.10 10.90 C3.10 16.00 4.70 18.60 7.60 18.60 H10.80 Z" fill="#fff" stroke="#2a2a2a" stroke-width="1.0"/><ellipse cx="11.80" cy="10.80" rx="3.4" ry="1.25" fill="#2a2a2a"/></g>
<g transform="translate(741.80 421.20)"><path d="M15.00 0.00 H6.50 C2.60 0.00 0.00 3.90 0.00 10.70 C0.00 17.50 2.60 21.40 6.50 21.40 H15.00" fill="#abd1d3" stroke="#2f6f6f" stroke-width="1.00"/><path d="M15.00 1.25 H7.00 C3.55 1.25 1.25 4.70 1.25 10.70 C1.25 16.70 3.55 20.15 7.00 20.15 H15.00" fill="#abd1d3" stroke="#2f6f6f" stroke-width="0.70"/><path d="M10.30 3.20 H7.60 C4.70 3.20 3.10 5.80 3.10 11.20 C3.10 16.60 4.70 19.20 7.60 19.20 H10.30 Z" fill="#abd1d3" stroke="#2f6f6f" stroke-width="1.0"/><ellipse cx="11.30" cy="11.10" rx="3.4" ry="1.25" fill="#2f6f6f"/></g>
<g transform="translate(977.80 302.50) rotate(90)"><path d="M15.00 0.00 H6.50 C2.60 0.00 0.00 3.90 0.00 10.65 C0.00 17.40 2.60 21.30 6.50 21.30 H15.00" fill="#fff" stroke="#2a2a2a" stroke-width="1.00"/><path d="M15.00 1.25 H7.00 C3.55 1.25 1.25 4.70 1.25 10.65 C1.25 16.60 3.55 20.05 7.00 20.05 H15.00" fill="#fff" stroke="#2a2a2a" stroke-width="0.70"/><path d="M10.30 3.20 H7.60 C4.70 3.20 3.10 5.80 3.10 11.15 C3.10 16.50 4.70 19.10 7.60 19.10 H10.30 Z" fill="#fff" stroke="#2a2a2a" stroke-width="1.0"/><ellipse cx="11.30" cy="11.05" rx="3.4" ry="1.25" fill="#2a2a2a"/></g>
<g transform="translate(1006.60 372.10)"><path d="M15.00 0.00 H6.50 C2.60 0.00 0.00 3.90 0.00 10.55 C0.00 17.20 2.60 21.10 6.50 21.10 H15.00" fill="#fff" stroke="#2a2a2a" stroke-width="1.00"/><path d="M15.00 1.25 H7.00 C3.55 1.25 1.25 4.70 1.25 10.55 C1.25 16.40 3.55 19.85 7.00 19.85 H15.00" fill="#fff" stroke="#2a2a2a" stroke-width="0.70"/><path d="M10.30 3.20 H7.60 C4.70 3.20 3.10 5.80 3.10 11.05 C3.10 16.30 4.70 18.90 7.60 18.90 H10.30 Z" fill="#fff" stroke="#2a2a2a" stroke-width="1.0"/><ellipse cx="11.30" cy="10.95" rx="3.4" ry="1.25" fill="#2a2a2a"/></g>
<path d="M376.7 144.8 L351.2 127.7 A30.7 30.7 0 0 0 344.2 144.8" fill="none" stroke="#2a2a2a" stroke-width="1.10" />
<rect x="375.20" y="143.30" width="3.00" height="3.00" fill="#3b3b3b"/>
<rect x="342.70" y="143.30" width="3.00" height="3.00" fill="#3b3b3b"/>
<path d="M331.7 186.3 L312.4 161.3 A31.6 31.6 0 0 1 331.7 153.0" fill="none" stroke="#2a2a2a" stroke-width="1.10" />
<rect x="330.20" y="184.80" width="3.00" height="3.00" fill="#3b3b3b"/>
<rect x="330.20" y="151.50" width="3.00" height="3.00" fill="#3b3b3b"/>
<path d="M331.7 227.3 L312.5 252.9 A32.0 32.0 0 0 0 331.7 260.9" fill="none" stroke="#2a2a2a" stroke-width="1.10" />
<rect x="330.20" y="225.80" width="3.00" height="3.00" fill="#3b3b3b"/>
<rect x="330.20" y="259.40" width="3.00" height="3.00" fill="#3b3b3b"/>
<path d="M387.3 179.9 L369.8 202.4 A28.5 28.5 0 0 0 387.3 209.2" fill="none" stroke="#2a2a2a" stroke-width="1.10" />
<rect x="385.80" y="178.40" width="3.00" height="3.00" fill="#3b3b3b"/>
<rect x="385.80" y="207.70" width="3.00" height="3.00" fill="#3b3b3b"/>
<path d="M387.0 244.0 L369.0 266.7 A29.0 29.0 0 0 0 387.0 273.8" fill="none" stroke="#2a2a2a" stroke-width="1.10" />
<rect x="385.50" y="242.50" width="3.00" height="3.00" fill="#3b3b3b"/>
<rect x="385.50" y="272.30" width="3.00" height="3.00" fill="#3b3b3b"/>
<path d="M395.7 298.8 L424.1 316.5 A33.5 33.5 0 0 0 431.2 299.8" fill="none" stroke="#2a2a2a" stroke-width="1.10" />
<rect x="394.20" y="297.30" width="3.00" height="3.00" fill="#3b3b3b"/>
<path d="M466.7 298.8 L439.5 316.5 A32.5 32.5 0 0 1 431.2 299.8" fill="none" stroke="#2a2a2a" stroke-width="1.10" />
<rect x="465.20" y="297.30" width="3.00" height="3.00" fill="#3b3b3b"/>
<path d="M391.6 343.8 L409.5 313.2 A35.5 35.5 0 0 0 391.6 304.8" fill="none" stroke="#2a2a2a" stroke-width="1.10" />
<rect x="390.10" y="342.30" width="3.00" height="3.00" fill="#3b3b3b"/>
<rect x="390.10" y="303.30" width="3.00" height="3.00" fill="#3b3b3b"/>
<path d="M401.4 367.6 L432.4 349.9 A35.7 35.7 0 0 1 440.8 367.6" fill="none" stroke="#2a2a2a" stroke-width="1.10" />
<rect x="399.90" y="366.10" width="3.00" height="3.00" fill="#3b3b3b"/>
<rect x="439.30" y="366.10" width="3.00" height="3.00" fill="#3b3b3b"/>
<path d="M546.2 289.4 L569.1 303.3 A26.8 26.8 0 0 0 575.8 291.0" fill="none" stroke="#2a2a2a" stroke-width="1.10" />
<rect x="544.70" y="287.90" width="3.00" height="3.00" fill="#3b3b3b"/>
<path d="M605.2 288.4 L582.4 303.6 A27.4 27.4 0 0 1 575.8 291.0" fill="none" stroke="#2a2a2a" stroke-width="1.10" />
<rect x="603.70" y="286.90" width="3.00" height="3.00" fill="#3b3b3b"/>
<path d="M653.4 26.0 L631.2 59.6 A40.3 40.3 0 0 0 653.0 68.9" fill="none" stroke="#2a2a2a" stroke-width="1.10" />
<rect x="651.90" y="24.50" width="3.00" height="3.00" fill="#3b3b3b"/>
<rect x="651.50" y="67.40" width="3.00" height="3.00" fill="#3b3b3b"/>
<path d="M677.0 293.8 L690.2 282.0 A17.7 17.7 0 0 1 695.4 292.6" fill="none" stroke="#2a2a2a" stroke-width="1.10" />
<rect x="675.50" y="292.30" width="3.00" height="3.00" fill="#3b3b3b"/>
<path d="M732.1 293.5 L702.7 273.2 A35.7 35.7 0 0 0 695.4 292.6" fill="none" stroke="#2a2a2a" stroke-width="1.10" />
<rect x="730.60" y="292.00" width="3.00" height="3.00" fill="#3b3b3b"/>
<path d="M881.1 301.7 L857.6 318.2 A28.7 28.7 0 0 1 850.3 301.7" fill="none" stroke="#2a2a2a" stroke-width="1.10" />
<rect x="879.60" y="300.20" width="3.00" height="3.00" fill="#3b3b3b"/>
<rect x="848.80" y="300.20" width="3.00" height="3.00" fill="#3b3b3b"/>
<path d="M830.6 312.8 L811.0 345.1 A37.8 37.8 0 0 0 831.0 353.3" fill="none" stroke="#2a2a2a" stroke-width="1.10" />
<rect x="829.10" y="311.30" width="3.00" height="3.00" fill="#3b3b3b"/>
<rect x="829.50" y="351.80" width="3.00" height="3.00" fill="#3b3b3b"/>
<path d="M902.7 189.6 L930.2 171.3 A33.0 33.0 0 0 1 937.2 189.6" fill="none" stroke="#2a2a2a" stroke-width="1.10" />
<rect x="901.20" y="188.10" width="3.00" height="3.00" fill="#3b3b3b"/>
<rect x="935.70" y="188.10" width="3.00" height="3.00" fill="#3b3b3b"/>
<path d="M946.5 201.3 L930.2 223.1 A27.2 27.2 0 0 0 946.5 230.1" fill="none" stroke="#2a2a2a" stroke-width="1.10" />
<rect x="945.00" y="199.80" width="3.00" height="3.00" fill="#3b3b3b"/>
<rect x="945.00" y="228.60" width="3.00" height="3.00" fill="#3b3b3b"/>
<path d="M946.5 272.7 L928.5 294.8 A28.5 28.5 0 0 0 946.5 301.0" fill="none" stroke="#2a2a2a" stroke-width="1.10" />
<rect x="945.00" y="271.20" width="3.00" height="3.00" fill="#3b3b3b"/>
<rect x="945.00" y="299.50" width="3.00" height="3.00" fill="#3b3b3b"/>
<path d="M946.8 400.2 L930.5 377.6 A27.9 27.9 0 0 1 946.8 370.9" fill="none" stroke="#2a2a2a" stroke-width="1.10" />
<rect x="945.30" y="398.70" width="3.00" height="3.00" fill="#3b3b3b"/>
<rect x="945.30" y="369.40" width="3.00" height="3.00" fill="#3b3b3b"/>
<path d="M894.7 397.7 L876.6 423.2 A31.3 31.3 0 0 0 894.7 430.7" fill="none" stroke="#2a2a2a" stroke-width="1.10" />
<rect x="893.20" y="396.20" width="3.00" height="3.00" fill="#3b3b3b"/>
<rect x="893.20" y="429.20" width="3.00" height="3.00" fill="#3b3b3b"/>
<path d="M906.2 438.0 L933.0 455.6 A32.1 32.1 0 0 0 940.6 437.9" fill="none" stroke="#2a2a2a" stroke-width="1.10" />
<rect x="904.70" y="436.50" width="3.00" height="3.00" fill="#3b3b3b"/>
<rect x="939.10" y="436.40" width="3.00" height="3.00" fill="#3b3b3b"/>
<path d="M636.0 367.0 L665.5 348.1 A35.0 35.0 0 0 1 675.5 367.6" fill="none" stroke="#2a2a2a" stroke-width="1.10" />
<rect x="634.50" y="365.50" width="3.00" height="3.00" fill="#3b3b3b"/>
<rect x="674.00" y="366.10" width="3.00" height="3.00" fill="#3b3b3b"/>
<path d="M322.8 440.6 L346.3 457.7 A29.1 29.1 0 0 0 352.3 440.6" fill="none" stroke="#2a2a2a" stroke-width="1.10" />
<rect x="321.30" y="439.10" width="3.00" height="3.00" fill="#3b3b3b"/>
<rect x="350.80" y="439.10" width="3.00" height="3.00" fill="#3b3b3b"/>
<path d="M283.6 479.6 L266.5 453.0 A31.6 31.6 0 0 1 284.1 445.3" fill="none" stroke="#2a2a2a" stroke-width="1.10" />
<rect x="282.10" y="478.10" width="3.00" height="3.00" fill="#3b3b3b"/>
<rect x="282.60" y="443.80" width="3.00" height="3.00" fill="#3b3b3b"/>
<path d="M326.6 487.6 L300.3 505.6 A31.9 31.9 0 0 1 292.8 488.8" fill="none" stroke="#2a2a2a" stroke-width="1.10" />
<rect x="325.10" y="486.10" width="3.00" height="3.00" fill="#3b3b3b"/>
<rect x="291.30" y="487.30" width="3.00" height="3.00" fill="#3b3b3b"/>
<path d="M355.4 487.6 L383.0 505.6 A33.0 33.0 0 0 0 388.8 488.0" fill="none" stroke="#2a2a2a" stroke-width="1.10" />
<rect x="353.90" y="486.10" width="3.00" height="3.00" fill="#3b3b3b"/>
<rect x="387.30" y="486.50" width="3.00" height="3.00" fill="#3b3b3b"/>
<path d="M453.1 431.5 L435.6 408.9 A28.6 28.6 0 0 1 453.1 402.7" fill="none" stroke="#2a2a2a" stroke-width="1.10" />
<rect x="451.60" y="430.00" width="3.00" height="3.00" fill="#3b3b3b"/>
<rect x="451.60" y="401.20" width="3.00" height="3.00" fill="#3b3b3b"/>
<path d="M682.0 414.0 L663.8 437.2 A29.5 29.5 0 0 0 682.0 442.8" fill="none" stroke="#2f6f6f" stroke-width="1.10" />
<path d="M636.7 482.0 L664.2 500.8 A33.3 33.3 0 0 0 672.0 483.0" fill="none" stroke="#2f6f6f" stroke-width="1.10" />
<rect x="680.10" y="412.30" width="3.00" height="3.00" fill="#4a7172"/>
<rect x="680.10" y="441.10" width="3.00" height="3.00" fill="#4a7172"/>
<rect x="634.10" y="480.50" width="3.00" height="3.00" fill="#4a7172"/>
<rect x="670.10" y="481.10" width="3.00" height="3.00" fill="#4a7172"/>
<rect x="639.10" y="20.10" width="12.70" height="6.40" fill="#fff" stroke="#2a2a2a" stroke-width="1.00"/>
<path d="M639.7 25.9 L641.1 21.4 L651.4 20.5" fill="none" stroke="#2a2a2a" stroke-width="1.00" />
<rect x="651.80" y="20.00" width="8.90" height="4.30" fill="#8a8a8a"/>
<rect x="651.80" y="24.30" width="4.80" height="2.30" fill="#3b3b3b"/>
<rect x="652.50" y="68.60" width="4.30" height="5.40" fill="#3b3b3b"/>
<line x1="897.1" y1="190.7" x2="897.1" y2="236" stroke="#2a2a2a" stroke-width="1.2" stroke-dasharray="10.3 7.2"/>
<line x1="387.6" y1="438.6" x2="451.4" y2="438.6" stroke="#444" stroke-width="0.9" stroke-dasharray="9.2 8.2"/>
<line x1="629.7" y1="436.9" x2="629.7" y2="480" stroke="#2f6f6f" stroke-width="0.9" stroke-dasharray="9.2 2.8"/>
<text x="199.0" y="167.2" font-size="19" letter-spacing="0.3" fill="#1a1a1a" stroke="#1a1a1a" stroke-width="0.3">18,7</text>
<text x="363.6" y="87.2" font-size="19" letter-spacing="0.3" fill="#1a1a1a" stroke="#1a1a1a" stroke-width="0.3">12,0</text>
<text x="205.7" y="290.9" font-size="19" letter-spacing="0.3" fill="#1a1a1a" stroke="#1a1a1a" stroke-width="0.3">12,3</text>
<text x="334.7" y="316.6" font-size="19" letter-spacing="0.3" fill="#1a1a1a" stroke="#1a1a1a" stroke-width="0.3">7,4</text>
<text x="398.8" y="211.2" font-size="19" letter-spacing="0.3" fill="#1a1a1a" stroke="#1a1a1a" stroke-width="0.3">4,1</text>
<text x="400.7" y="265.1" font-size="19" letter-spacing="0.3" fill="#1a1a1a" stroke="#1a1a1a" stroke-width="0.3">1,5</text>
<text x="805.2" y="149.6" font-size="19" letter-spacing="0.3" fill="#1a1a1a" stroke="#1a1a1a" stroke-width="0.3">17,4</text>
<text x="936.5" y="152.2" font-size="19" letter-spacing="0.3" fill="#1a1a1a" stroke="#1a1a1a" stroke-width="0.3">12,4</text>
<text x="850.2" y="272.6" font-size="19" letter-spacing="0.3" fill="#1a1a1a" stroke="#1a1a1a" stroke-width="0.3">2,0</text>
<text x="966.6" y="231.7" font-size="19" letter-spacing="0.3" fill="#1a1a1a" stroke="#1a1a1a" stroke-width="0.3">2,8</text>
<text x="960.5" y="290.9" font-size="19" letter-spacing="0.3" fill="#1a1a1a" stroke="#1a1a1a" stroke-width="0.3">2,5</text>
<text x="880.3" y="347.1" font-size="19" letter-spacing="0.3" fill="#1a1a1a" stroke="#1a1a1a" stroke-width="0.3">9,7</text>
<text x="963.3" y="383.4" font-size="19" letter-spacing="0.3" fill="#1a1a1a" stroke="#1a1a1a" stroke-width="0.3">4,2</text>
<text x="326.3" y="413.4" font-size="19" letter-spacing="0.3" fill="#1a1a1a" stroke="#1a1a1a" stroke-width="0.3">4,2</text>
<text x="199.0" y="472.8" font-size="19" letter-spacing="0.3" fill="#1a1a1a" stroke="#1a1a1a" stroke-width="0.3">11,8</text>
<text x="358.5" y="471.6" font-size="19" letter-spacing="0.3" fill="#1a1a1a" stroke="#1a1a1a" stroke-width="0.3">4,5</text>
<text x="403.6" y="400.4" font-size="19" letter-spacing="0.3" fill="#1a1a1a" stroke="#1a1a1a" stroke-width="0.3">2,3</text>
<text x="461.9" y="424.8" font-size="19" letter-spacing="0.3" fill="#1a1a1a" stroke="#1a1a1a" stroke-width="0.3">2,3</text>
<text x="212.5" y="572.2" font-size="19" letter-spacing="0.3" fill="#1a1a1a" stroke="#1a1a1a" stroke-width="0.3">14,3</text>
<text x="398.8" y="572.2" font-size="19" letter-spacing="0.3" fill="#1a1a1a" stroke="#1a1a1a" stroke-width="0.3">12,6</text>
<text x="814.6" y="524.6" font-size="19" letter-spacing="0.3" fill="#1a1a1a" stroke="#1a1a1a" stroke-width="0.3">16,8</text>
<text x="942.6" y="540.0" font-size="19" letter-spacing="0.3" fill="#1a1a1a" stroke="#1a1a1a" stroke-width="0.3">13,6</text>
<text x="546.6" y="573.9" font-size="19" letter-spacing="0.3" fill="#2d6969" stroke="#2d6969" stroke-width="0.2">16,1</text>
<text x="680.6" y="573.9" font-size="19" letter-spacing="0.3" fill="#2d6969" stroke="#2d6969" stroke-width="0.2">10,7</text>
<text x="634.7" y="419.9" font-size="19" letter-spacing="0.3" fill="#2d6969" stroke="#2d6969" stroke-width="0.2">3,7</text>
<text x="695.3" y="437.2" font-size="19" letter-spacing="0.3" fill="#2d6969" stroke="#2d6969" stroke-width="0.2">4,2</text>
<circle cx="223.20" cy="92.00" r="34.30" fill="none" stroke="#2a2a2a" stroke-width="1.10"/>
<line x1="188.90" y1="92.50" x2="257.50" y2="92.50" stroke="#2a2a2a" stroke-width="1.15"/>
<text x="223.6" y="84.5" font-size="27" text-anchor="middle" fill="#1a1a1a" stroke="#1a1a1a" stroke-width="0.3">2</text>
<text x="224.1" y="112.1" font-size="17.9" letter-spacing="0.85" text-anchor="middle" fill="#1a1a1a" stroke="#1a1a1a" stroke-width="0.3">56,0</text>
<circle cx="957.80" cy="76.40" r="34.30" fill="none" stroke="#2a2a2a" stroke-width="1.10"/>
<line x1="923.50" y1="76.50" x2="992.10" y2="76.50" stroke="#2a2a2a" stroke-width="1.15"/>
<text x="957.1" y="68.9" font-size="27" text-anchor="middle" fill="#1a1a1a" stroke="#1a1a1a" stroke-width="0.3">3</text>
<text x="956.9" y="96.5" font-size="17.9" letter-spacing="0.85" text-anchor="middle" fill="#1a1a1a" stroke="#1a1a1a" stroke-width="0.3">81,4</text>
<circle cx="223.30" cy="408.90" r="34.30" fill="none" stroke="#2a2a2a" stroke-width="1.10"/>
<line x1="189.00" y1="408.50" x2="257.60" y2="408.50" stroke="#2a2a2a" stroke-width="1.15"/>
<text x="223.7" y="401.4" font-size="27" text-anchor="middle" fill="#1a1a1a" stroke="#1a1a1a" stroke-width="0.3">2</text>
<text x="224.2" y="429.0" font-size="17.9" letter-spacing="0.85" text-anchor="middle" fill="#1a1a1a" stroke="#1a1a1a" stroke-width="0.3">52,0</text>
<circle cx="567.80" cy="482.60" r="34.30" fill="none" stroke="#2f6f6f" stroke-width="1.10"/>
<line x1="533.50" y1="482.50" x2="602.10" y2="482.50" stroke="#2f6f6f" stroke-width="1.15"/>
<text x="568.2" y="475.1" font-size="27" text-anchor="middle" fill="#2d6969" stroke="#2d6969" stroke-width="0.3">1</text>
<text x="567.1" y="502.7" font-size="17.9" letter-spacing="0.85" text-anchor="middle" fill="#2d6969" stroke="#2d6969" stroke-width="0.3">34,7</text>
</svg>
</body></html>
